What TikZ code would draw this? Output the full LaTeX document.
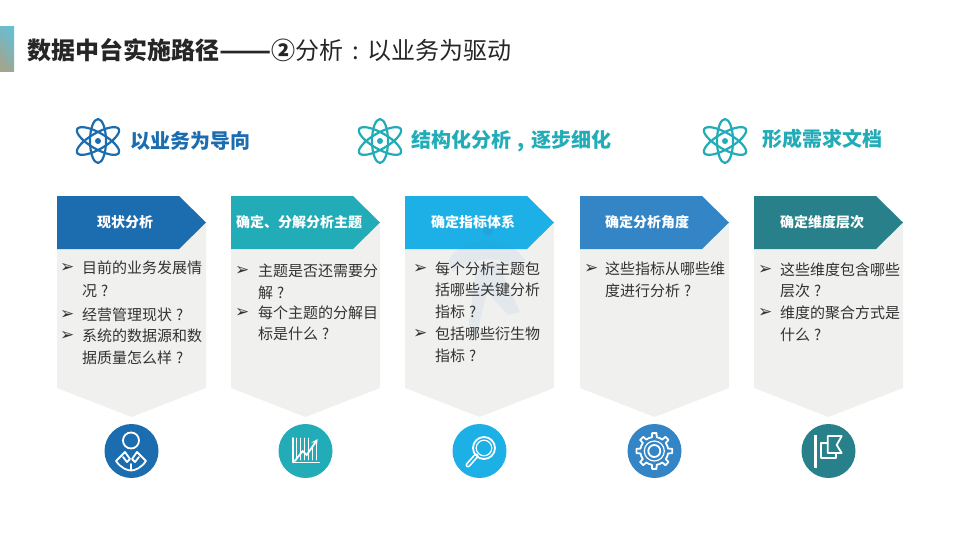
\documentclass[tikz,border=0pt]{standalone}
\usepackage{graphicx}
\usepackage{fontspec}
\setmainfont{Noto Sans CJK SC}
\newfontfamily\symfont{DejaVu Sans}
\definecolor{colA}{HTML}{1C6CB0}
\definecolor{colB}{HTML}{22ACB8}
\definecolor{colC}{HTML}{1DB0E6}
\definecolor{colD}{HTML}{3385C6}
\definecolor{colE}{HTML}{28818A}
\definecolor{panelgray}{HTML}{F0F0EF}
\definecolor{bodytext}{HTML}{333333}
\definecolor{tabgray}{HTML}{A0A68F}
\definecolor{tabteal}{HTML}{69BDD1}
\newcommand{\wen}{\makebox[1em][c]{?}}
\newcommand{\dou}{\makebox[1em][c]{,}}
\newcommand{\mao}{\makebox[1em][c]{:}}
\tikzset{
	headline/.style={anchor=west,inner sep=0pt,font=\fontsize{20}{24}\selectfont\bfseries},
	bartext/.style={anchor=west,inner sep=0pt,text=white,font=\fontsize{14}{16}\selectfont\bfseries},
	bodyline/.style={anchor=west,inner sep=0pt,text=bodytext,font=\fontsize{15}{18}\selectfont},
	bulletmark/.style={anchor=west,inner sep=0pt,text=bodytext,font=\symfont\fontsize{17}{18}\selectfont},
	iconline/.style={draw=white,line width=1.8pt,fill=none},
}
% one atom sign, #1 centre, #2 colour
\newcommand{\atomsign}[2]{
	\begin{scope}[shift={#1},line width=2.2pt,draw=#2]
		\draw[#2] (0,0) ellipse [x radius=8, y radius=22];
		\draw[#2,rotate=60] (0,0) ellipse [x radius=8, y radius=24];
		\draw[#2,rotate=-60] (0,0) ellipse [x radius=8, y radius=24];
		\fill[#2] (0,0) circle (3);
	\end{scope}
}
\begin{document}
\begin{tikzpicture}[x=1pt,y=-1pt,line join=round,line cap=round,>=stealth]
\useasboundingbox (0,0) rectangle (960,540);

\shade[bottom color=tabgray,top color=tabteal,shading angle=-50] (0,27) rectangle (14,72);
\node[anchor=west,inner sep=0pt,text=black!85,font=\fontsize{24}{28}\selectfont] (title) at (27,50) {\textbf{数据中台实施路径\scalebox{1.27}[1]{——}②}分析\mao 以业务为驱动};

% headings
\atomsign{(98,141)}{colA}
\atomsign{(380,141)}{colB}
\atomsign{(725,141)}{colB}
\node[headline,text=colA] (headA) at (130,141) {以业务为导向};
\node[headline,text=colB] (headB) at (411,141) {结构化分析\dou 逐步细化};
\node[headline,text=colB] (headC) at (762,139) {形成需求文档};

% panels
\foreach \px/\colname in {57/colA,231/colB,405/colC,580/colD,754/colE}{
	\fill[panelgray] (\px,222)--(\px+149,222)--(\px+149,388)--(\px+74.5,417)--(\px,388)--cycle;
	\fill[\colname] (\px,196)--(\px+122,196)--(\px+149,222.5)--(\px+122,249)--(\px,249)--cycle;
	\fill[\colname] (\px+74.5,451) circle (27);
}
% faint figure behind the third panel
\fill[colD,opacity=0.07] (448,262)..controls (455,248) and (465,243) .. (480,241)..controls (500,239) and (517,247) .. (525,260)--(510,265)..controls (500,257) and (475,256) .. (453,272)--cycle;
\fill[colD,opacity=0.07] (477,265)--(497,262)--(520,312)--(508,315)--(487,292)--(482,312)--(477,335)--(468,330)--(472,300)--cycle;
\fill[colD,opacity=0.3] (488,231) circle (5);

\node[bartext] (barA) at (97,222) {现状分析};
\node[bartext] (barB) at (236,222) {确定、分解分析主题};
\node[bartext] (barC) at (431,222) {确定指标体系};
\node[bartext] (barD) at (605,222) {确定分析角度};
\node[bartext] (barE) at (780,222) {确定维度层次};

% text lines
\foreach \tx/\ty/\tt [count=\n] in {
	82/268/目前的业务发展情,82/291/况\wen,82/315/经营管理现状\wen,82/336/系统的数据源和数,82/358/据质量怎么样\wen,
	258/271/主题是否还需要分,258/293/解\wen,258/313/每个主题的分解目,258/334/标是什么\wen,
	435/269/每个分析主题包,435/290/括哪些关键分析,435/312/指标\wen,435/334/包括哪些衍生物,435/356/指标\wen,
	605/269/这些指标从哪些维,605/291/度进行分析\wen,
	780/270/这些维度包含哪些,780/291/层次\wen,780/313/维度的聚合方式是,780/335/什么\wen}{
	\node[bodyline] (line\n) at (\tx,\ty) {\tt};
}
\foreach \tx/\ty [count=\n] in {60/268,60/315,60/336,235/271,235/313,413/269,413/334,584/269,758/270,758/313}{
	\node[bulletmark] (mark\n) at (\tx,\ty) {➢};
}

% person icon
\begin{scope}[shift={(131,451)}]
	\draw[iconline] (0,-10.5) circle (8);
	\draw[iconline] (-6,1)--(-15,10)..controls (-10,17) and (-4,19.5) .. (0,19.5)..controls (4,19.5) and (10,17) .. (15,10)--(6,1);
	\draw[iconline] (-6,1)--(-1,8)--(-4,11)--(-8,6);
	\draw[iconline] (6,1)--(1,8)--(4,11)--(8,6);
	\draw[iconline] (0,13)--(0,19);
\end{scope}
% chart icon
\begin{scope}[shift={(305.7,451)}]
	\draw[iconline] (-13,-13)--(-13,11.5)--(13.5,11.5);
	\foreach \bx/\by in {-9/-13,-5/-13,-1/-13,3/-13,7/-4,11/-8}{
		\draw[white,line width=0.9pt] (\bx,\by)--(\bx,9);
	}
	\draw[white,line width=1.8pt,->] (-11,10)--(-3,0)--(1,4)--(12,-12);
\end{scope}
% magnifier icon
\begin{scope}[shift={(484,448)}]
	\draw[iconline] (0,0) circle (11);
	\draw[white,line width=1.2pt] (0,0) circle (7.8);
	\draw[white,line width=5pt] (-8,8)--(-16,17);
	\draw[colC,line width=1.6pt] (-8.5,8.5)--(-16,17);
\end{scope}
% gear icon
\begin{scope}[shift={(654.3,451)}]
	\foreach \a in {0,45,...,315}{
		\draw[iconline] (\a-22.5:14)--(\a-10:14)--(\a-7:18)--(\a+7:18)--(\a+10:14)--(\a+22.5:14);
	}
	\draw[iconline] (0,0) circle (6);
	\draw[white,line width=1.2pt] (0,0) circle (10);
\end{scope}
% flag icon
\begin{scope}[shift={(828.7,451)}]
	\draw[white,line width=3pt,line cap=butt] (-13,-16)--(-13,17);
	\draw[iconline] (-1,-8)--(-8,-8)--(-8,7)--(7,7)--(7,2);
	\draw[iconline] (-1,-15)--(13,-15)--(8,-6)--(13,2)--(-1,2)--cycle;
\end{scope}
\end{tikzpicture}
\end{document}
